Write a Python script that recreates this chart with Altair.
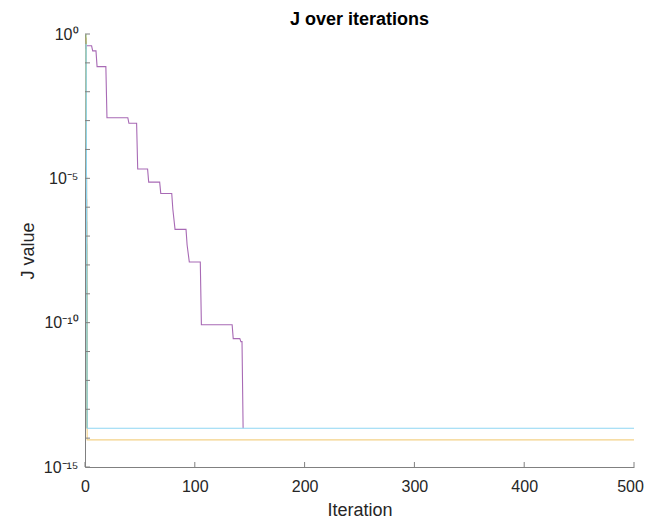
import altair as alt
import pandas as pd

# ---- data ----
purple_iter = [1, 6, 7, 10, 11, 19, 20, 39, 40, 47, 48, 57, 58, 68, 69, 79, 80, 82, 92, 93, 95,
               105, 106, 134, 135, 141, 142, 143, 144]
purple_val = [0.39, 0.39, 0.26, 0.26, 0.074, 0.074, 1.26e-3, 1.26e-3, 8.1e-4, 8.1e-4, 2.1e-5, 2.1e-5,
              7.4e-6, 7.4e-6, 3.0e-6, 3.0e-6, 8.5e-7, 1.7e-7, 1.7e-7, 4.9e-8, 1.26e-8,
              1.26e-8, 8.5e-11, 8.5e-11, 2.8e-11, 2.8e-11, 2.2e-11, 2.2e-11, 2.2e-14]

short_iter = [1, 2]
full_iter = [1, 2, 500]
blue_val = [0.55, 2.2e-14]
red_val = [0.75, 2.2e-14]
green_val = [1.0, 2.2e-14]
yellow_val = [0.3, 8.7e-15, 8.7e-15]
cyan_val = [0.45, 2.2e-14, 2.2e-14]

series_names = ["s1", "s2", "s3", "s4", "s5", "s6"]
series_colors = ["#5a9ccc", "#e38b66", "#f4d288", "#a86ab5", "#a3c97e", "#8ed6f4"]

y_tick_vals = [10.0 ** -k for k in range(0, 16)]
y_label_vals = [1, 1e-5, 1e-10, 1e-15]
x_tick_vals = [0, 100, 200, 300, 400, 500]

title_text = "J over iterations"
x_title = "Iteration"
y_title = "J value"

# ---- build table ----
rows = []
series_data = [
    (short_iter, blue_val), (short_iter, red_val), (full_iter, yellow_val),
    (purple_iter, purple_val), (short_iter, green_val), (full_iter, cyan_val),
]
for name, (xs, ys) in zip(series_names, series_data):
    for i, (a, b) in enumerate(zip(xs, ys)):
        rows.append({"series": name, "iter": a, "J": b, "idx": i})
df = pd.DataFrame(rows)

W, H = 549, 433
FONT = "Liberation Sans"

xscale = alt.Scale(domain=[0, 500], nice=False, zero=False)
yscale = alt.Scale(type="log", domain=[1e-15, 1], nice=False)

label_expr = ("datum.value >= 0.5 ? '10⁰' : "
              "(abs(log(datum.value)/log(10) + 5) < 0.1 ? '10⁻⁵' : "
              "(abs(log(datum.value)/log(10) + 10) < 0.1 ? '10⁻¹⁰' : "
              "(abs(log(datum.value)/log(10) + 15) < 0.1 ? '10⁻¹⁵' : '')))")

layers = []
for i, (name, col) in enumerate(zip(series_names, series_colors)):
    enc = dict(
        x=alt.X("iter:Q", scale=xscale,
                axis=alt.Axis(values=x_tick_vals, ticks=False, grid=False, title=x_title,
                              labelFontSize=16, titleFontSize=18, labelPadding=11,
                              labelFlush=False,
                              labelOffset={"condition": {"test": "datum.value == 500", "value": -4},
                                           "value": 0},
                              titlePadding=7, domainColor="#808080", labelColor="#262626",
                              titleColor="#262626", titleFontWeight="normal",
                              labelFont=FONT, titleFont=FONT)) if i == 0 else alt.X("iter:Q", scale=xscale),
        y=alt.Y("J:Q", scale=yscale,
                axis=alt.Axis(values=y_label_vals, ticks=False, grid=False, title=y_title,
                              labelExpr=label_expr, labelFontSize=16, titleFontSize=18,
                              labelFlush=False,
                              labelPadding=7, titlePadding=6, domainColor="#808080",
                              labelColor="#262626", titleColor="#262626",
                              titleFontWeight="normal", labelFont=FONT, titleFont=FONT)) if i == 0 else alt.Y("J:Q", scale=yscale),
        order="idx:Q",
    )
    layers.append(
        alt.Chart(df).transform_filter(alt.datum.series == name)
        .mark_line(color=col, strokeWidth=1.1, clip=True)
        .encode(**enc)
    )

ytick_df = pd.DataFrame({"J": y_tick_vals})
xtick_df = pd.DataFrame({"iter": x_tick_vals})

yticks = alt.Chart(ytick_df).mark_rule(color="#808080", strokeWidth=1).encode(
    y=alt.Y("J:Q", scale=yscale), x=alt.value(0), x2=alt.value(5))
xticks = alt.Chart(xtick_df).mark_rule(color="#808080", strokeWidth=1).encode(
    x=alt.X("iter:Q", scale=xscale), y=alt.value(H), y2=alt.value(H - 5))

chart = alt.layer(*layers, yticks, xticks).properties(
    width=W, height=H,
    title=alt.TitleParams(title_text, fontSize=18, font=FONT, fontWeight="bold",
                          color="#000000", anchor="middle", offset=9, dy=12),
    autosize=alt.AutoSizeParams(type="none"),
    padding={"left": 77, "top": 26, "right": 10, "bottom": 54},
).configure_view(stroke=None).configure_axis(domainWidth=1)

chart.save("out.html", embed_options={"renderer": "svg", "actions": False})
